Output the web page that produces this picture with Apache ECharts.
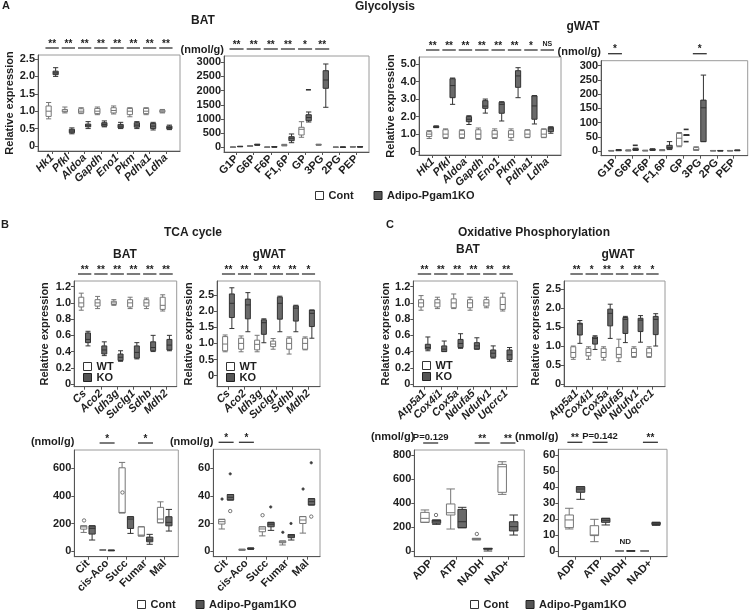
<!DOCTYPE html>
<html><head><meta charset="utf-8">
<script src="https://cdn.jsdelivr.net/npm/echarts@6/dist/echarts.min.js"></script>
<style>html,body{margin:0;padding:0;background:#fff}#c{width:749px;height:613px}</style>
</head><body><div id="c"></div>
<script>
// ---------------- categories ----------------
const glyGenes = ['Hk1','Pfkl','Aldoa','Gapdh','Eno1','Pkm','Pdha1','Ldha'];
const glyMets = ['G1P','G6P','F6P','F1,6P','GP','3PG','2PG','PEP'];
const tcaGenes = ['Cs','Aco2','Idh3g','Suclg1','Sdhb','Mdh2'];
const tcaMets = ['Cit','cis-Aco','Succ','Fumar','Mal'];
const oxGenes = ['Atp5a1','Cox4i1','Cox5a','Ndufa5','Ndufv1','Uqcrc1'];
const oxMets = ['ADP','ATP','NADH','NAD+'];

// ---------------- box data: [min, Q1, median, Q3, max] ----------------
// A: Glycolysis BAT genes
const glyBatGeneCont = [[0.78,0.85,1.0,1.15,1.25],[0.95,0.98,1.0,1.05,1.12],[0.93,0.95,1.0,1.07,1.1],[0.9,0.93,1.0,1.08,1.12],[0.92,0.95,1.02,1.1,1.15],[0.84,0.9,1.0,1.08,1.1],[0.9,0.93,1.0,1.08,1.1],[0.95,0.97,1.0,1.03,1.05]];
const glyBatGeneKO = [[2.0,2.05,2.1,2.15,2.25],[0.35,0.38,0.43,0.48,0.52],[0.5,0.55,0.58,0.63,0.7],[0.55,0.57,0.62,0.67,0.72],[0.5,0.52,0.57,0.62,0.68],[0.5,0.54,0.6,0.67,0.7],[0.46,0.5,0.57,0.65,0.68],[0.47,0.49,0.53,0.57,0.6]];
const glyBatGeneSig = ['**','**','**','**','**','**','**','**'];
// A: Glycolysis BAT metabolites (nmol/g)
const glyBatMetCont = [[0,2,5,8,12],[30,38,45,55,62],[0,2,5,8,10],[50,60,75,95,105],[353,434,635,706,904],[70,80,90,100,110],[0,2,4,6,8],[8,10,14,18,20]];
const glyBatMetKO = [[20,24,28,32,35],[70,80,90,100,110],[8,10,14,18,20],[162,233,320,374,470],[893,939,1050,1150,1246],[1412,2082,2375,2704,2940],[0,2,5,7,9],[10,12,16,20,22]];
const glyBatMetSig = ['**','**','**','**','*','**','',''];
const glyBatMetOut = [[4,2030,1,2]]; // [category, value, group, kind]
// A: Glycolysis gWAT genes
const glyWatGeneCont = [[0.75,0.86,1.0,1.14,1.2],[0.75,0.8,1.0,1.25,1.3],[0.75,0.8,1.0,1.2,1.25],[0.7,0.75,1.0,1.25,1.35],[0.75,0.8,1.0,1.2,1.3],[0.65,0.8,1.0,1.2,1.3],[0.8,0.82,1.0,1.23,1.25],[0.8,0.82,1.0,1.28,1.3]];
const glyWatGeneKO = [[1.37,1.38,1.42,1.45,1.47],[2.7,3.08,3.77,4.16,4.2],[1.55,1.71,1.85,2.0,2.05],[2.2,2.47,2.6,2.91,3.0],[1.75,2.19,2.7,2.82,2.85],[3.08,3.67,4.32,4.62,4.79],[1.58,1.85,2.61,3.18,3.2],[1.05,1.14,1.3,1.39,1.42]];
const glyWatGeneSig = ['**','**','**','**','**','**','*','NS'];
// A: Glycolysis gWAT metabolites
const glyWatMetCont = [[0,0.5,1,1.5,2],[0,1,2,3,4],[0,1,1.5,2,3],[1,2,3,4,5],[15,18,45,62,65],[2,3,5,12,15],[0,0.5,1,1.5,2],[0,0.5,1,1.5,2]];
const glyWatMetKO = [[1,2,3,4,5],[2,3,5,8,10],[2,3,5,6,8],[5,8,12,20,33],[55,55,56,57,57],[33,33,152,179,267],[0,0.5,1,1.5,2],[1,1.5,2,3,3.5]];
const glyWatMetSig = ['*','','','','','*','',''];
const glyWatMetOut = [[1,20,1,2],[4,76,1,2],[4,33,1,2]];
// B: TCA BAT genes
const tcaBatGeneWT = [[0.91,0.95,1.0,1.07,1.12],[0.93,0.96,1.0,1.04,1.08],[0.97,0.98,1.0,1.02,1.04],[0.93,0.95,1.0,1.04,1.07],[0.93,0.96,1.0,1.04,1.06],[0.9,0.92,0.97,1.07,1.1]];
const tcaBatGeneKO = [[0.47,0.51,0.55,0.63,0.65],[0.35,0.37,0.42,0.47,0.52],[0.28,0.29,0.33,0.37,0.41],[0.31,0.32,0.39,0.47,0.51],[0.4,0.41,0.45,0.52,0.6],[0.41,0.42,0.48,0.55,0.6]];
const tcaBatGeneSig = ['**','**','**','**','**','**'];
// B: TCA gWAT genes
const tcaWatGeneWT = [[0.74,0.77,0.98,1.21,1.26],[0.74,0.82,1.0,1.16,1.23],[0.74,0.8,0.97,1.1,1.25],[0.82,0.9,0.98,1.07,1.15],[0.67,0.82,1.0,1.16,1.2],[0.8,0.82,1.0,1.16,1.2]];
const tcaWatGeneKO = [[1.46,1.8,2.24,2.53,2.72],[1.36,1.76,2.19,2.37,2.57],[1.02,1.28,1.64,1.73,1.76],[1.36,1.75,2.24,2.43,2.46],[1.36,1.69,2.09,2.16,2.18],[1.16,1.52,1.93,2.03,2.03]];
const tcaWatGeneSig = ['**','**','*','**','**','*'];
// B: TCA BAT metabolites
const tcaBatMetCont = [[135,159,175,183,183],[5,6,8,9,10],[277,277,280,604,643],[109,109,116,176,176],[205,205,232,317,357]];
const tcaBatMetKO = [[80,123,165,183,183],[2,3,5,6,7],[128,164,232,249,249],[49,67,80,101,121],[145,183,208,249,302]];
const tcaBatMetSig = ['','*','','*',''];
const tcaBatMetOut = [[0,222,0,0],[2,425,0,0]];
// B: TCA gWAT metabolites
const tcaWatMetCont = [[16,19.6,21.3,23,23],[0.5,0.7,1,1.2,1.4],[11,14,16,17.6,17.6],[4.4,6,6.5,7.3,7.3],[13,20,22.5,25,25]];
const tcaWatMetKO = [[37,37,39,41,41],[1.2,1.5,1.8,2.1,2.3],[15,17.6,19.5,20.8,20.8],[8,9.7,11,12,12],[33.4,33.4,35.8,38,38]];
const tcaWatMetSig = ['*','*','','',''];
const tcaWatMetOut = [[0,37.7,0,1],[0,56,1,1],[0,29,1,0],[2,26,0,0],[2,32,1,1],[3,13.6,0,1],[3,20,1,1],[4,45,0,1],[4,64,1,1],[4,25,1,0]];
// C: OxPhos BAT genes
const oxBatGeneWT = [[0.91,0.95,1.0,1.04,1.09],[0.93,0.95,1.0,1.04,1.07],[0.93,0.94,1.0,1.05,1.11],[0.91,0.94,1.0,1.04,1.07],[0.94,0.96,1.0,1.04,1.07],[0.9,0.92,0.98,1.07,1.12]];
const oxBatGeneKO = [[0.41,0.43,0.45,0.49,0.58],[0.4,0.4,0.43,0.47,0.53],[0.44,0.45,0.5,0.55,0.62],[0.43,0.43,0.47,0.51,0.57],[0.32,0.33,0.38,0.42,0.47],[0.28,0.3,0.36,0.42,0.45]];
const oxBatGeneSig = ['**','**','**','**','**','**'];
// C: OxPhos gWAT genes
const oxWatGeneWT = [[0.65,0.7,0.83,0.98,1.0],[0.65,0.74,0.83,0.94,0.98],[0.63,0.7,0.83,0.94,0.98],[0.59,0.69,0.78,0.96,1.18],[0.7,0.72,0.83,0.94,0.98],[0.7,0.72,0.82,0.94,0.98]];
const oxWatGeneKO = [[1.07,1.29,1.58,1.6,1.67],[0.91,1.05,1.2,1.24,1.27],[1.2,1.53,1.86,1.97,2.1],[1.09,1.33,1.7,1.75,1.78],[1.1,1.38,1.68,1.73,1.8],[1.0,1.3,1.7,1.78,1.85]];
const oxWatGeneSig = ['**','*','**','*','**','*'];
// C: OxPhos BAT metabolites
const oxBatMetCont = [[239,239,272,322,342],[183,300,319,392,517],[92,95,100,104,106],[472,489,702,722,744]];
const oxBatMetKO = [[222,231,250,258,258],[194,194,244,347,364],[0,14,20,22,22],[133,167,203,244,300]];
const oxBatMetSig = ['P=0.129','','**','**'];
const oxBatMetOut = [[2,142,0,0],[0,300,1,0]];
// C: OxPhos gWAT metabolites
const oxWatMetCont = [[13.75,14.6,19.4,22.5,26.7],[5.8,9.6,10,15.8,19.8],[0,0,0,0,0],[0,0,0,0,0]];
const oxWatMetKO = [[32.3,36.7,38.75,40.2,40.2],[16.25,17.9,19.2,20.4,20.4],[0,0,0,0,0],[16,16.5,17,17.8,18]];
const oxWatMetSig = ['**','P=0.142','','**'];
const oxWatMetNotes = [[2,6,'ND']];

// ---------------- tick values / labels ----------------
const ticksRel25 = [0,0.5,1,1.5,2,2.5];
const labelsRel25 = ['0','0.5','1.0','1.5','2.0','2.5'];
const ticksRel5 = [0,1,2,3,4,5];
const labelsRel5 = ['0','1.0','2.0','3.0','4.0','5.0'];
const ticksRel12 = [0,0.2,0.4,0.6,0.8,1.0,1.2];
const labelsRel12 = ['0','0.2','0.4','0.6','0.8','1.0','1.2'];
const ticksGlyBatMet = [0,500,1000,1500,2000,2500,3000];
const ticksGlyWatMet = [0,50,100,150,200,250,300];
const ticksTcaBatMet = [0,200,400,600];
const ticksTcaWatMet = [0,20,40,60];
const ticksOxBatMet = [0,200,400,600,800];
const ticksOxWatMet = [0,10,20,30,40,50,60];

// ---------------- layout / style ----------------
const FONT = '"Liberation Sans", Arial, Helvetica, sans-serif';
const TXT = '#1e1e1e';
const nm = ['Cont','Adipo-Pgam1KO'];
const wk = ['WT','KO'];
const REL = 'Relative expression';
const NMOL = '(nmol/g)';
const CONT_STYLE = {color: '#ffffff', borderColor: '#767676', borderWidth: 1};
const KO_STYLE = {color: '#6a6a6a', borderColor: '#333333', borderWidth: 1};

const panels = [
  {cats:glyGenes, italic:true, a:glyBatGeneCont, b:glyBatGeneKO, sig:glyBatGeneSig, out:[], ticks:ticksRel25, tl:labelsRel25, names:nm, yName:REL, gap:23, box:[38,55,142,96], y:[-0.144,2.615], pad:6},
  {cats:glyMets, italic:false, a:glyBatMetCont, b:glyBatMetKO, sig:glyBatMetSig, out:glyBatMetOut, ticks:ticksGlyBatMet, tl:null, names:nm, yName:NMOL, gap:6, box:[224,56,145,96], y:[-166,3222], pad:4},
  {cats:glyGenes, italic:true, a:glyWatGeneCont, b:glyWatGeneKO, sig:glyWatGeneSig, out:[], ticks:ticksRel5, tl:labelsRel5, names:nm, yName:REL, gap:22, box:[419,57,142,98], y:[-0.19,5.4], pad:5.5},
  {cats:glyMets, italic:false, a:glyWatMetCont, b:glyWatMetKO, sig:glyWatMetSig, out:glyWatMetOut, ticks:ticksGlyWatMet, tl:null, names:nm, yName:NMOL, gap:9, box:[601,60.7,146.7,95], y:[-16.5,317.6], pad:5.5},
  {cats:tcaGenes, italic:true, a:tcaBatGeneWT, b:tcaBatGeneKO, sig:tcaBatGeneSig, out:[], ticks:ticksRel12, tl:labelsRel12, names:wk, yName:REL, gap:24, box:[74,281,102.7,105.7], y:[-0.033,1.27], pad:2.5},
  {cats:tcaGenes, italic:true, a:tcaWatGeneWT, b:tcaWatGeneKO, sig:tcaWatGeneSig, out:[], ticks:ticksRel25, tl:labelsRel25, names:wk, yName:REL, gap:20, box:[217,281,103,105.7], y:[-0.34,2.93], pad:3.5},
  {cats:oxGenes, italic:true, a:oxBatGeneWT, b:oxBatGeneKO, sig:oxBatGeneSig, out:[], ticks:ticksRel12, tl:labelsRel12, names:wk, yName:REL, gap:20, box:[413.3,281,104,105.7], y:[-0.033,1.27], pad:3},
  {cats:oxGenes, italic:true, a:oxWatGeneWT, b:oxWatGeneKO, sig:oxWatGeneSig, out:[], ticks:ticksRel25, tl:labelsRel25, names:wk, yName:REL, gap:23, box:[564,281,101,105.7], y:[-0.07,2.71], pad:5},
  {cats:tcaMets, italic:false, a:tcaBatMetCont, b:tcaBatMetKO, sig:tcaBatMetSig, out:tcaBatMetOut, ticks:ticksTcaBatMet, tl:null, names:nm, yName:NMOL, gap:8, box:[74.3,450,104,106.7], y:[-41,733], pad:4},
  {cats:tcaMets, italic:false, a:tcaWatMetCont, b:tcaWatMetKO, sig:tcaWatMetSig, out:tcaWatMetOut, ticks:ticksTcaWatMet, tl:null, names:nm, yName:NMOL, gap:7, box:[213.3,449.3,106.7,107.4], y:[-4.1,73.8], pad:2.7},
  {cats:oxMets, italic:false, a:oxBatMetCont, b:oxBatMetKO, sig:oxBatMetSig, out:oxBatMetOut, ticks:ticksOxBatMet, tl:null, names:nm, yName:NMOL, gap:13, box:[414.3,450,110,106.7], y:[-47.5,841.7], pad:3.5},
  {cats:oxMets, italic:false, a:oxWatMetCont, b:oxWatMetKO, sig:oxWatMetSig, out:[], notes:oxWatMetNotes, ticks:ticksOxWatMet, tl:null, names:nm, yName:NMOL, gap:12.6, box:[558.3,449.3,108.7,107.4], y:[-3.6,63.6], pad:4}
];

function fmtFrom(ticks, labels) {
  return function (v) {
    for (let k = 0; k < ticks.length; k++) {
      if (Math.abs(ticks[k] - v) < 1e-6) return labels ? labels[k] : String(ticks[k]);
    }
    return '';
  };
}

function txtStyle(text, font, fill, align, valign) {
  return {text: text, font: font, fill: fill, align: align, verticalAlign: valign, textAlign: align, textVerticalAlign: valign};
}

// category labels under the x axis (rotated 45deg, anchored at the tick)
function catLabelRenderer(cats, italic) {
  return function (params, api) {
    const i = api.value(0);
    const c = api.coord([i, api.value(1)]);
    const bottom = params.coordSys.y + params.coordSys.height;
    const font = (italic ? 'italic ' : '') + 'bold 11px ' + FONT;
    return {type: 'text', x: c[0], y: bottom + 5, rotation: Math.PI / 4,
      style: txtStyle(cats[i], font, TXT, 'right', 'middle')};
  };
}

function sigRenderer(labels) {
  return function (params, api) {
    const i = api.value(0);
    const text = labels[i];
    if (!text) return null;
    const c = api.coord([i, api.value(1)]);
    const bw = api.size([1, 0])[0];
    const top = params.coordSys.y;
    const half = Math.min(bw * 0.41, 7.5);
    const star = /^\*+$/.test(text);
    const font = text === 'NS' ? 'bold 7px ' + FONT : (star ? 'bold 10px ' + FONT : 'bold 9.5px ' + FONT);
    return {
      type: 'group',
      children: [
        {type: 'line', shape: {x1: c[0] - half, y1: top - 7, x2: c[0] + half, y2: top - 7}, style: {stroke: '#333', lineWidth: 1.3}},
        {type: 'text', x: c[0], y: star ? top - 11 : top - 13, style: txtStyle(text, font, TXT, 'center', 'middle')}
      ]
    };
  };
}

function noteRenderer(params, api) {
  const c = api.coord([api.value(0), api.value(1)]);
  return {type: 'text', x: c[0], y: c[1], style: txtStyle('ND', 'bold 8px ' + FONT, TXT, 'center', 'middle')};
}

function outlierRender(params, api) {
  const i = api.value(0), v = api.value(1), g = api.value(2), k = api.value(3);
  const bw = api.size([1, 0])[0];
  const aw = bw * 0.8 - 2;
  const off = (g ? 1 : -1) * 0.2875 * aw;
  const boxW = 0.425 * aw;
  const c = api.coord([i, v]);
  const x = c[0] + off, y = c[1];
  if (k === 2) {
    return {type: 'line', shape: {x1: x - boxW / 2, y1: y, x2: x + boxW / 2, y2: y}, style: {stroke: '#333', lineWidth: 1.6}};
  }
  return {type: 'circle', shape: {cx: x, cy: y, r: k === 1 ? 1.2 : 1.7},
          style: {fill: k === 1 ? '#333' : '#fff', stroke: '#555', lineWidth: 0.8}};
}

const option = {animation: false, backgroundColor: '#fff', grid: [], xAxis: [], yAxis: [], series: [], legend: [], graphic: []};

panels.forEach(function (p, gi) {
  const L = p.box[0], T = p.box[1], W = p.box[2], H = p.box[3];
  const n = p.cats.length;
  const catW = (W - 2 * p.pad) / n;
  const padU = p.pad / catW;
  const centers = p.cats.map(function (_, i) { return i; });
  const isN = p.yName === NMOL;
  option.grid.push({left: L, top: T, width: W, height: H, show: true, borderColor: '#9a9a9a', borderWidth: 1});
  option.xAxis.push({
    type: 'value', gridIndex: gi, min: -0.5 - padU, max: n - 0.5 + padU, splitLine: {show: false},
    axisLine: {show: true, onZero: false, lineStyle: {color: '#555', width: 1}},
    axisTick: {show: true, customValues: centers, length: 3, lineStyle: {color: '#555'}},
    axisLabel: {show: false}
  });
  option.yAxis.push({
    type: 'value', gridIndex: gi, min: p.y[0], max: p.y[1], splitLine: {show: false},
    axisLine: {show: true, onZero: false, lineStyle: {color: '#555', width: 1}},
    axisTick: {show: true, customValues: p.ticks, length: 3, lineStyle: {color: '#555'}},
    axisLabel: {customValues: p.ticks, formatter: fmtFrom(p.ticks, p.tl), margin: 3,
      showMinLabel: true, showMaxLabel: true, hideOverlap: false,
      fontFamily: FONT, fontSize: 11, fontWeight: 'bold', color: TXT},
    name: p.yName, nameLocation: isN ? 'end' : 'middle', nameGap: p.gap, nameRotate: isN ? 0 : 90,
    nameTextStyle: isN ? {fontFamily: FONT, fontSize: 11, fontWeight: 'bold', color: TXT, align: 'right', verticalAlign: 'middle'}
                       : {fontFamily: FONT, fontSize: 11, fontWeight: 'bold', color: TXT}
  });
  option.series.push({
    type: 'boxplot', name: p.names[0], xAxisIndex: gi, yAxisIndex: gi, silent: true,
    data: p.a.map(function (b, i) { return [i].concat(b); }),
    boxWidth: [1, 60], itemStyle: CONT_STYLE
  });
  option.series.push({
    type: 'boxplot', name: p.names[1], xAxisIndex: gi, yAxisIndex: gi, silent: true,
    data: p.b.map(function (b, i) { return [i].concat(b); }),
    boxWidth: [1, 60], itemStyle: KO_STYLE
  });
  if (p.out.length) {
    option.series.push({type: 'custom', xAxisIndex: gi, yAxisIndex: gi, silent: true, z: 5, data: p.out, renderItem: outlierRender});
  }
  option.series.push({type: 'custom', xAxisIndex: gi, yAxisIndex: gi, silent: true, z: 5, clip: false,
    data: p.sig.map(function (s, i) { return [i, 0]; }), renderItem: sigRenderer(p.sig)});
  option.series.push({type: 'custom', xAxisIndex: gi, yAxisIndex: gi, silent: true, z: 5, clip: false,
    data: centers.map(function (i) { return [i, 0]; }), renderItem: catLabelRenderer(p.cats, p.italic)});
  if (p.notes) {
    option.series.push({type: 'custom', xAxisIndex: gi, yAxisIndex: gi, silent: true, z: 5,
      data: p.notes.map(function (d) { return [d[0], d[1]]; }), renderItem: noteRenderer});
  }
});

const legText = {fontFamily: FONT, fontSize: 11, fontWeight: 'bold', color: TXT};
const legIcon = [
  {color: '#ffffff', borderColor: '#333333', borderWidth: 1},
  {color: '#555555', borderColor: '#222222', borderWidth: 1}
];
function legend(left, top, names, gap, orient) {
  return {left: left, top: top, padding: 0, orient: orient || 'horizontal', itemWidth: 8, itemHeight: 8, itemGap: gap,
    icon: 'rect', selectedMode: false,
    data: names.map(function (n, i) { return {name: n, itemStyle: legIcon[i]}; }),
    textStyle: Object.assign({lineHeight: 10}, legText)};
}
option.legend = [
  legend(315, 190, nm, 20),
  legend(137, 599, nm, 20),
  legend(470, 599, nm, 17),
  legend(83, 361, wk, 0, 'vertical'),
  legend(226, 361, wk, 0, 'vertical'),
  legend(422, 360, wk, 0, 'vertical')
];

function gtext(x, y, text, size, align) {
  return {type: 'text', x: x, y: y, silent: true,
    style: txtStyle(text, 'bold ' + size + 'px ' + FONT, TXT, align || 'center', 'middle')};
}
option.graphic = [
  gtext(2, 6, 'A', 11, 'left'),
  gtext(385, 7, 'Glycolysis', 12),
  gtext(203, 21, 'BAT', 12),
  gtext(583, 27, 'gWAT', 12),
  gtext(1, 225, 'B', 11, 'left'),
  gtext(193, 233, 'TCA cycle', 12),
  gtext(125, 255, 'BAT', 12),
  gtext(269, 255, 'gWAT', 12),
  gtext(386, 225, 'C', 11, 'left'),
  gtext(534, 233, 'Oxidative Phosphorylation', 12),
  gtext(468, 250, 'BAT', 12),
  gtext(618, 255, 'gWAT', 12)
];

const chart = echarts.init(document.getElementById('c'), null, {renderer: 'canvas'});
chart.setOption(option);
</script></body></html>
